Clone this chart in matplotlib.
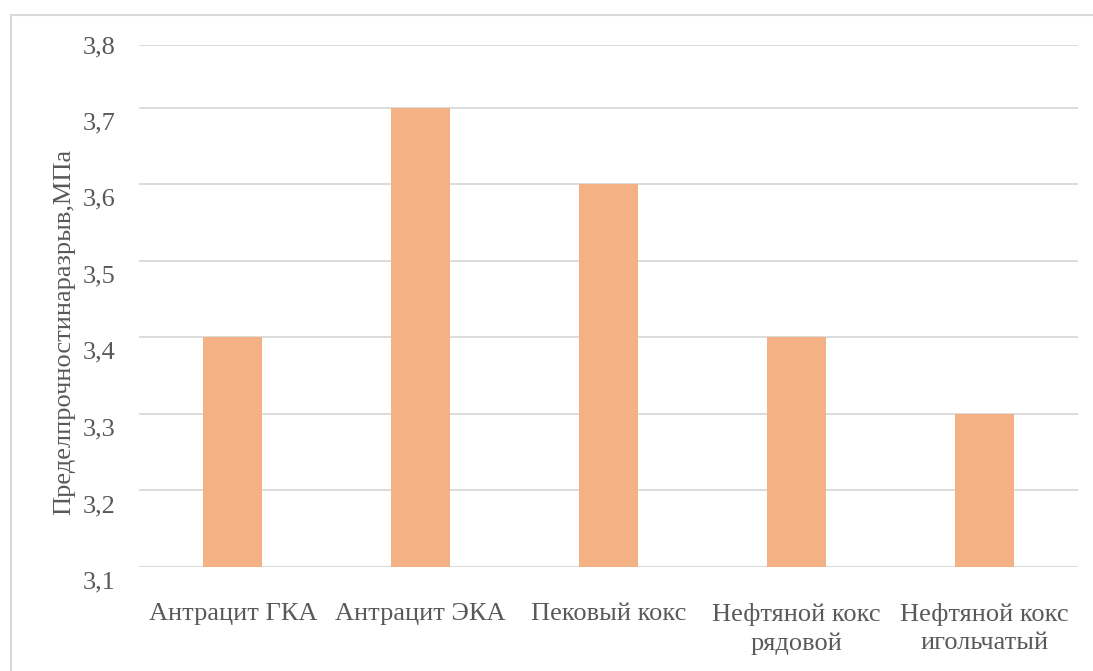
import matplotlib.pyplot as plt
from matplotlib.patches import Rectangle
from matplotlib.transforms import ScaledTranslation

materials = ["Антрацит ГКА", "Антрацит ЭКА", "Пековый кокс",
             "Нефтяной кокс\nрядовой", "Нефтяной кокс\nигольчатый"]
strength = [3.4, 3.7, 3.6, 3.4, 3.3]
y_min, y_max = 3.1, 3.782
y_ticks = [3.1, 3.2, 3.3, 3.4, 3.5, 3.6, 3.7, y_max]
y_labels = ["3,1", "3,2", "3,3", "3,4", "3,5", "3,6", "3,7", "3,8"]

plt.rcParams['font.family'] = ['Liberation Serif', 'DejaVu Serif']
text_color = '#595959'

fig = plt.figure(figsize=(10.93, 6.71), dpi=100)
ax = fig.add_axes([139 / 1093, 1 - 567 / 671, 939 / 1093, 522 / 671])

x = range(len(materials))
ax.bar(x, strength, width=0.315, color='#F4B183', zorder=2)
ax.set_ylim(y_min, y_max)
ax.set_xlim(-0.5, len(materials) - 0.5)
ax.set_yticks(y_ticks)
ax.set_yticklabels(y_labels)
ax.set_xticks(list(x))
ax.set_xticklabels(materials, linespacing=1.35)
ax.tick_params(axis='both', length=0, labelsize=19, colors=text_color)
ax.tick_params(axis='y', pad=17)
ax.tick_params(axis='x', pad=26)
ax.grid(axis='y', color='#D9D9D9', linewidth=1.3, zorder=0)
for s in ax.spines.values():
    s.set_visible(False)

# value labels sit a little below their gridlines (except the top one)
shift = ScaledTranslation(0, -0.13, fig.dpi_scale_trans)
for lbl in ax.get_yticklabels()[:-1]:
    lbl.set_transform(lbl.get_transform() + shift)

ax.set_ylabel("Пределпрочностинаразрыв,МПа", fontsize=19, color=text_color)
ax.yaxis.set_label_coords(-64 / 939, 0.45)

# chart frame
fig.patches.append(Rectangle((11 / 1093, -0.1), 1.2, 1 - 15 / 671 + 0.1,
                             transform=fig.transFigure, fill=False,
                             edgecolor='#D9D9D9', linewidth=1.5))

fig.savefig('out.png', dpi=100)
